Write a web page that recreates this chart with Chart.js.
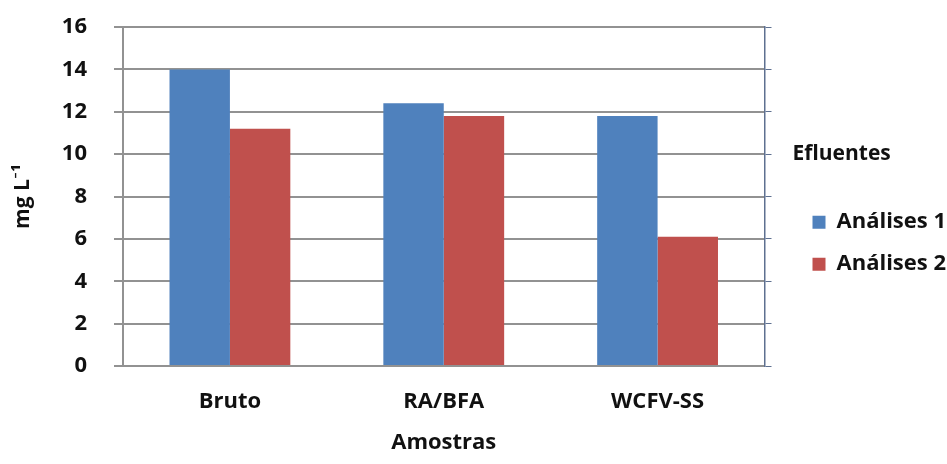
<!DOCTYPE html>
<html>
<head>
<meta charset="utf-8">
<script src="https://cdn.jsdelivr.net/npm/chart.js@4/dist/chart.umd.min.js"></script>
<style>
  html, body { margin: 0; padding: 0; background: #fff; }
  #wrap { width: 947px; height: 464px; }
</style>
</head>
<body>
<div id="wrap"><canvas id="chart"></canvas></div>
<script>
// Data
const categories = ['Bruto', 'RA/BFA', 'WCFV-SS'];
const analises1 = [14.0, 12.4, 11.8];
const analises2 = [11.2, 11.8, 6.1];
const seriesNames = ['Análises 1', 'Análises 2'];
const yTicks = [0, 2, 4, 6, 8, 10, 12, 14, 16];

const FONT = '"Open Sans", Lato, sans-serif';
const gridGray = '#929292';
const axisBlue = '#5e7090';

new Chart(document.getElementById('chart'), {
    type: 'bar',
    data: {
        labels: categories,
        datasets: [
            { label: seriesNames[0], data: analises1, backgroundColor: '#4f81bd', yAxisID: 'y' },
            { label: seriesNames[1], data: analises2, backgroundColor: '#c0504d', yAxisID: 'y' }
        ]
    },
    options: {
        responsive: true,
        maintainAspectRatio: false,
        animation: false,
        // legend is allowed to run a little past the right edge, as in the original
        layout: { padding: { top: 27, left: 0, right: -4, bottom: 0 } },
        datasets: { bar: { categoryPercentage: 0.565, barPercentage: 1.0 } },
        plugins: {
            tooltip: { enabled: false },
            legend: {
                position: 'right',
                align: 'start',
                title: {
                    display: true,
                    text: 'Efluentes',
                    position: 'start',
                    color: '#111',
                    font: { family: FONT, size: 21, weight: 'bold' },
                    padding: { top: 117, bottom: 22 }
                },
                labels: {
                    color: '#111',
                    boxWidth: 13,
                    boxHeight: 13,
                    padding: 20,
                    font: { family: FONT, size: 22, weight: 'bold' }
                }
            }
        },
        scales: {
            x: {
                grid: { display: false, drawTicks: false },
                border: { display: false },
                ticks: { color: '#111', padding: 23, font: { family: FONT, size: 22, weight: 'bold' } },
                title: {
                    display: true,
                    text: 'Amostras',
                    color: '#111',
                    font: { family: FONT, size: 22, weight: 'bold' },
                    padding: { top: 0, bottom: 8 }
                },
                afterFit: s => { s.height = 98; }
            },
            y: {
                min: 0,
                max: 16,
                afterBuildTicks: s => { s.ticks = yTicks.map(v => ({ value: v })); },
                grid: { color: gridGray, lineWidth: 2, tickLength: 9 },
                border: { color: gridGray, width: 2 },
                ticks: { color: '#111', padding: 27, font: { family: FONT, size: 22, weight: 'bold' } },
                title: {
                    display: true,
                    text: 'mg L⁻¹',
                    color: '#111',
                    font: { family: FONT, size: 21, weight: 'bold' },
                    padding: { top: 10, bottom: 0 }
                },
                afterFit: s => { s.width = 123; s.paddingTop = 12; s.paddingBottom = 12; }
            },
            y2: {
                position: 'right',
                min: 0,
                max: 16,
                afterBuildTicks: s => { s.ticks = yTicks.map(v => ({ value: v })); },
                grid: { drawOnChartArea: false, color: axisBlue, lineWidth: 1, tickLength: 7 },
                border: { color: axisBlue, width: 1.5 },
                ticks: { display: false },
                afterFit: s => { s.width = 28; }
            }
        }
    }
});
</script>
</body>
</html>
